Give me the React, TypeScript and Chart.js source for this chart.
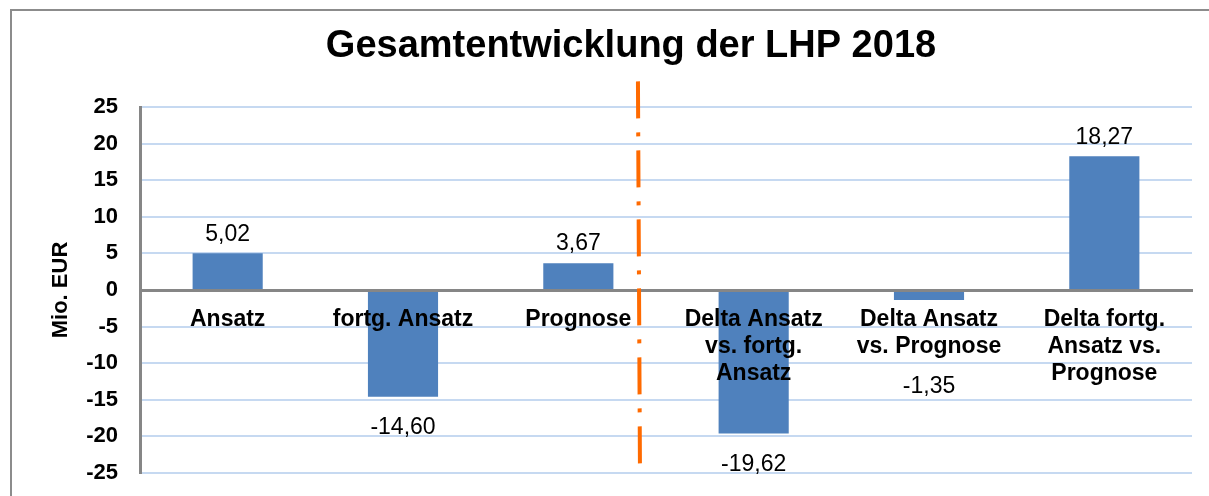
import React, { useEffect, useRef } from "react";
import { Chart, registerables } from "chart.js";

Chart.register(...registerables);

const chartTitle = "Gesamtentwicklung der LHP 2018";
const yAxisTitle = "Mio. EUR";
const categories: string[][] = [
  ["Ansatz"],
  ["fortg. Ansatz"],
  ["Prognose"],
  ["Delta Ansatz", "vs. fortg.", "Ansatz"],
  ["Delta Ansatz", "vs. Prognose"],
  ["Delta fortg.", "Ansatz vs.", "Prognose"],
];
const values: number[] = [5.02, -14.6, 3.67, -19.62, -1.35, 18.27];
const yMin = -25;
const yMax = 25;
const yStep = 5;
// divider between the plan values and the deltas (in category index units)
const dividerIndex = 2.34;
const dividerTopValue = 28.5;
const dividerBottomValue = -24.2;

const FONT = "'Liberation Sans', Arial, Helvetica, sans-serif";
const BAR_COLOR = "#4f81bd";
const GRID_COLOR = "#c6d9f1";
const AXIS_COLOR = "#868686";
const CAT_LINE_HEIGHT = 27;

const fmt = (v: number) => v.toFixed(2).replace(".", ",");

export default function App() {
  const ref = useRef<HTMLCanvasElement | null>(null);

  useEffect(() => {
    if (!ref.current) return;

    const decorPlugin = {
      id: "decor",
      beforeDraw(chart: any) {
        const { ctx } = chart;
        ctx.save();
        ctx.fillStyle = "#ffffff";
        ctx.fillRect(0, 0, chart.width, chart.height);
        ctx.restore();
      },
      afterDraw(chart: any) {
        const { ctx } = chart;
        const x = chart.scales.x;
        const y = chart.scales.y;
        ctx.save();
        // outer frame
        ctx.strokeStyle = "#8c8c8c";
        ctx.lineWidth = 2;
        ctx.strokeRect(11, 10, chart.width + 100, chart.height + 100);
        // title
        ctx.fillStyle = "#000";
        ctx.font = `bold 38px ${FONT}`;
        ctx.textAlign = "center";
        ctx.textBaseline = "alphabetic";
        ctx.fillText(chartTitle, 631, 57);
        // divider line
        const i0 = Math.floor(dividerIndex);
        const frac = dividerIndex - i0;
        const px =
          x.getPixelForValue(i0) +
          frac * (x.getPixelForValue(i0 + 1) - x.getPixelForValue(i0));
        ctx.strokeStyle = "#ff6a00";
        ctx.lineWidth = 4;
        ctx.setLineDash([37, 14, 4, 14]);
        ctx.beginPath();
        ctx.moveTo(px, y.getPixelForValue(dividerTopValue));
        ctx.lineTo(px + 2, y.getPixelForValue(dividerBottomValue));
        ctx.stroke();
        ctx.restore();
      },
      afterDatasetsDraw(chart: any) {
        const { ctx } = chart;
        const meta = chart.getDatasetMeta(0);
        const zero = chart.scales.y.getPixelForValue(0);
        ctx.save();
        ctx.fillStyle = "#000";
        ctx.font = `23px ${FONT}`;
        ctx.textAlign = "center";
        ctx.textBaseline = "middle";
        meta.data.forEach((bar: any, i: number) => {
          const v = values[i];
          let ly: number;
          if (v >= 0) {
            ly = bar.y - 19;
          } else {
            const minY = zero + 28 + categories[i].length * CAT_LINE_HEIGHT + 15;
            ly = Math.max(bar.y + 31, minY);
          }
          ctx.fillText(fmt(v), bar.x, ly);
        });
        ctx.restore();
      },
    };

    const chart = new Chart(ref.current, {
      type: "bar",
      data: {
        labels: categories,
        datasets: [
          {
            data: values,
            backgroundColor: BAR_COLOR,
            borderWidth: 0,
            barPercentage: 0.4,
            categoryPercentage: 1,
          },
        ],
      },
      options: {
        responsive: false,
        animation: false,
        devicePixelRatio: 1,
        layout: { padding: { left: 48, top: 107, right: 17, bottom: 23 } },
        plugins: {
          legend: { display: false },
          tooltip: { enabled: false },
          title: { display: false },
        },
        scales: {
          x: {
            type: "category",
            position: { y: 0 } as any,
            afterFit: (s: any) => {
              s.height = 0;
              s.paddingTop = 0;
              s.paddingBottom = 0;
            },
            grid: { display: false, drawTicks: false },
            border: { display: true, color: AXIS_COLOR, width: 3, z: 1 },
            ticks: {
              z: 2,
              padding: 16,
              color: "#000",
              maxRotation: 0,
              autoSkip: false,
              font: { family: FONT, size: 23, weight: "bold", lineHeight: CAT_LINE_HEIGHT / 23 },
            },
          },
          y: {
            min: yMin,
            max: yMax,
            afterFit: (s: any) => {
              s.width = 92;
              s.paddingTop = 0;
              s.paddingBottom = 0;
            },
            ticks: {
              stepSize: yStep,
              padding: 22,
              color: "#000",
              font: { family: FONT, size: 22, weight: "bold" },
            },
            grid: { color: GRID_COLOR, lineWidth: 2, drawTicks: false },
            border: { display: true, color: AXIS_COLOR, width: 3 },
            title: {
              display: true,
              text: yAxisTitle,
              color: "#000",
              padding: 0,
              font: { family: FONT, size: 22, weight: "bold" },
            },
          },
        },
      },
      plugins: [decorPlugin],
    });

    return () => chart.destroy();
  }, []);

  return (
    <div style={{ position: "fixed", left: 0, top: 0, width: 1209, height: 496, background: "#fff" }}>
      <canvas ref={ref} width={1209} height={496} style={{ display: "block" }} />
    </div>
  );
}
